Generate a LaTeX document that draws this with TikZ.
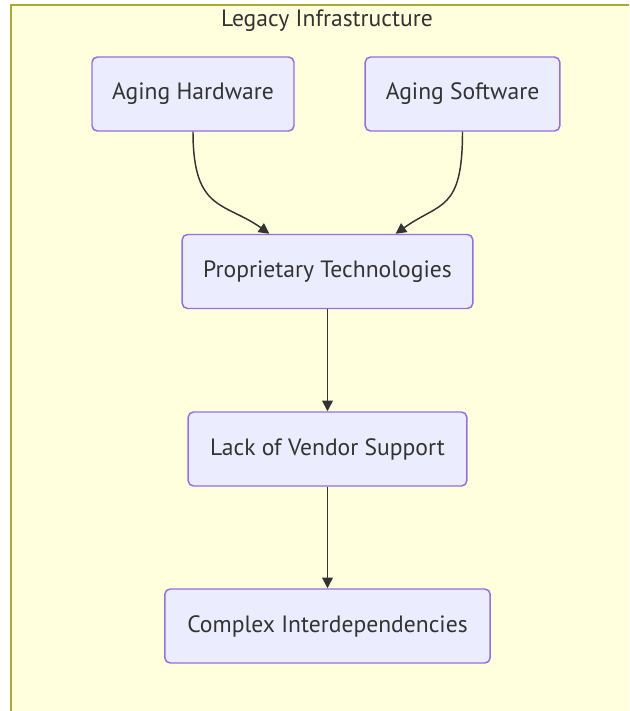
\documentclass[tikz,border=0pt]{standalone}
\usepackage{fontspec}
\setmainfont{PT Sans}
\usetikzlibrary{arrows.meta}
\definecolor{boxfill}{HTML}{ECECFF}
\definecolor{boxline}{HTML}{9370DB}
\definecolor{groupfill}{HTML}{FFFFDE}
\definecolor{groupline}{HTML}{AAAA33}
\definecolor{inkgrey}{HTML}{333333}
\begin{document}
\begin{tikzpicture}[x=0.75pt, y=-0.75pt,
                main/.style = {draw=boxline, fill=boxfill, line width=1.1pt, rounded corners=4pt,
                               minimum height=55.5pt, inner xsep=2pt, text=inkgrey,
                               font=\fontsize{17.7}{21}\selectfont},
                group/.style = {draw=groupline, fill=groupfill, line width=1.4pt},
                link/.style = {draw=inkgrey, line width=1.1pt, -{Triangle[length=8pt,width=8pt]}}]
                \useasboundingbox (0,0) rectangle (629,711);
                \fill[white] (0,0) rectangle (629,711);
                \clip (0,0) rectangle (629,711);
                % the subgraph box runs off the right and bottom
                \draw[group] (11,5) rectangle (660,740);
                \node[text=inkgrey, font=\fontsize{17.7}{21}\selectfont] (title) at (327,21) {Legacy Infrastructure};
                \node[main, minimum width=151.5pt] (hw) at (193,94) {Aging Hardware};
                \node[main, minimum width=146pt] (sw) at (462.5,94) {Aging Software};
                \node[main, minimum width=218pt] (pt) at (327.5,271.5) {Proprietary Technologies};
                \node[main, minimum width=209pt] (lv) at (327.5,449) {Lack of Vendor Support};
                \node[main, minimum width=244pt] (ci) at (327.5,626) {Complex Interdependencies};
                \path[link] (hw.south) .. controls +(0,80) and +(-45,-32) .. (pt.147.6);
                \path[link] (sw.south) .. controls +(0,80) and +(45,-32) .. (pt.29.9);
                \path[link] (pt) -- (lv);
                \path[link] (lv) -- (ci);
            \end{tikzpicture}
\end{document}
